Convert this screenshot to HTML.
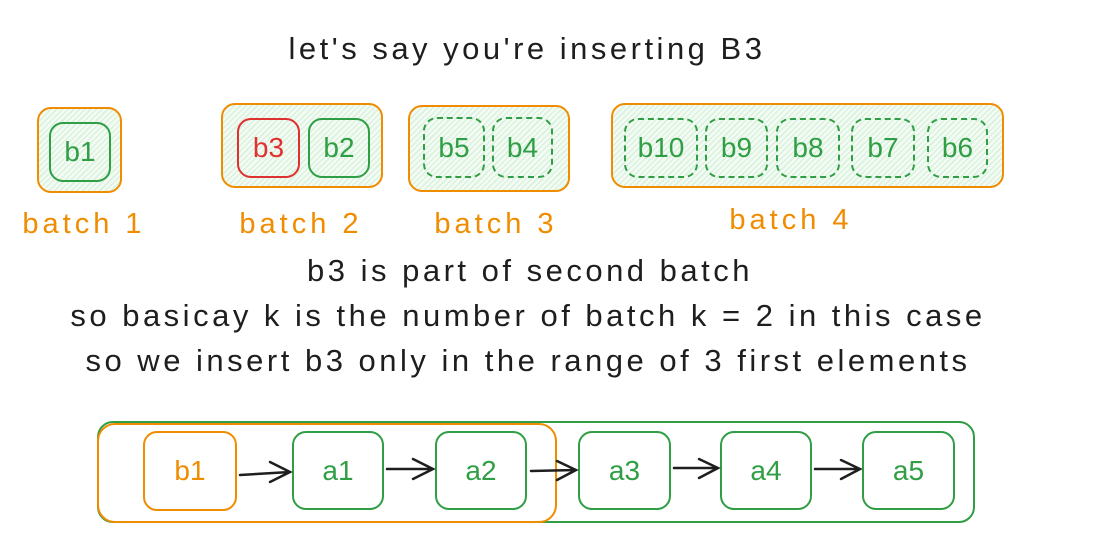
<!DOCTYPE html>
<html><head><meta charset="utf-8"><style>
body{margin:0;width:1114px;height:560px;background:#fff;position:relative;overflow:hidden;font-family:"Liberation Sans",sans-serif}
.b{position:absolute;box-sizing:border-box;border-radius:14px}
.h{background:repeating-linear-gradient(135deg,#d8f2dc 0 1.5px,#f4fbf5 1.5px 4px)}
.o{border:2px solid #f08c00}
.g{border:2px solid #2f9e44;color:#2f9e44;display:flex;align-items:center;justify-content:center;font-size:28px}
.r{border:2px solid #e03131;color:#e03131;display:flex;align-items:center;justify-content:center;font-size:28px}
.t{position:absolute;white-space:nowrap;transform:translateX(-50%);color:#1e1e1e;font-size:31px;letter-spacing:3.5px}
.l{position:absolute;white-space:nowrap;transform:translateX(-50%);color:#f08c00;font-size:29px;letter-spacing:4px}
.nb{display:flex;align-items:center;justify-content:center;font-size:28px}
</style></head><body>
<div class="t" style="left:527px;top:31px">let's say you're inserting B3</div>

<div class="b o h" style="left:37px;top:107px;width:85px;height:86px"></div>
<div class="b g" style="left:49px;top:122px;width:62px;height:60px">b1</div>

<div class="b o h" style="left:221px;top:103px;width:162px;height:85px"></div>
<div class="b r" style="left:237px;top:118px;width:63px;height:60px">b3</div>
<div class="b g" style="left:308px;top:118px;width:62px;height:60px">b2</div>

<div class="b o h" style="left:408px;top:105px;width:162px;height:87px"></div>
<div class="b g" style="left:423px;top:117px;width:62px;height:61px;border-style:dashed">b5</div>
<div class="b g" style="left:492px;top:117px;width:61px;height:61px;border-style:dashed">b4</div>

<div class="b o h" style="left:611px;top:103px;width:393px;height:85px"></div>
<div class="b g" style="left:624px;top:118px;width:74px;height:60px;border-style:dashed">b10</div>
<div class="b g" style="left:705px;top:118px;width:63px;height:60px;border-style:dashed">b9</div>
<div class="b g" style="left:776px;top:118px;width:64px;height:60px;border-style:dashed">b8</div>
<div class="b g" style="left:851px;top:118px;width:64px;height:60px;border-style:dashed">b7</div>
<div class="b g" style="left:927px;top:118px;width:61px;height:60px;border-style:dashed">b6</div>

<div class="l" style="left:84px;top:208px">batch 1</div>
<div class="l" style="left:301px;top:208px">batch 2</div>
<div class="l" style="left:496px;top:208px">batch 3</div>
<div class="l" style="left:791px;top:204px">batch 4</div>

<div class="t" style="left:530px;top:253px">b3 is part of second batch</div>
<div class="t" style="left:528px;top:298px">so basicay k is the number of batch k = 2 in this case</div>
<div class="t" style="left:528px;top:343px">so we insert b3 only in the range of 3 first elements</div>

<div class="b" style="left:97px;top:421px;width:878px;height:102px;border:2px solid #2f9e44;border-radius:16px"></div>
<div class="b" style="left:97px;top:423px;width:460px;height:100px;border:2px solid #f08c00;border-radius:18px"></div>
<div class="b nb" style="left:143px;top:431px;width:94px;height:80px;border:2px solid #f08c00;color:#f08c00">b1</div>
<div class="b g" style="left:292px;top:431px;width:92px;height:79px">a1</div>
<div class="b g" style="left:435px;top:431px;width:92px;height:79px">a2</div>
<div class="b g" style="left:578px;top:431px;width:93px;height:79px">a3</div>
<div class="b g" style="left:720px;top:431px;width:92px;height:79px">a4</div>
<div class="b g" style="left:862px;top:431px;width:93px;height:79px">a5</div>

<svg width="1114" height="560" style="position:absolute;left:0;top:0" fill="none" stroke="#1e1e1e" stroke-width="2.5" stroke-linecap="round">
<path d="M240 475 L290 472 M270 462 L290 472 L270 482"/>
<path d="M387 469 L433 469 M413 459 L433 469 L413 479"/>
<path d="M531 471 L576 470 M557 461 L576 470 L557 480"/>
<path d="M674 468 L718 468 M699 459 L718 468 L699 478"/>
<path d="M815 469 L860 469 M841 460 L860 469 L841 479"/>
</svg>
</body></html>
